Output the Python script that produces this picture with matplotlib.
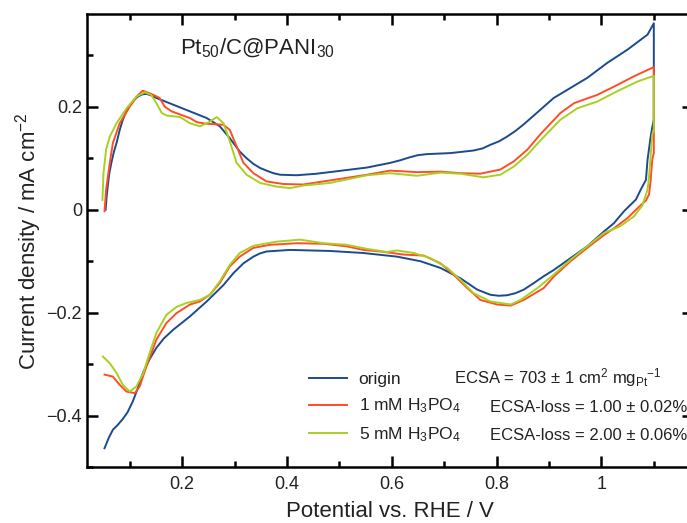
import numpy as np
import matplotlib
matplotlib.use('Agg')
import matplotlib.pyplot as plt
from matplotlib.ticker import MultipleLocator

plt.rcParams['font.family'] = ['Liberation Sans', 'DejaVu Sans']
plt.rcParams['mathtext.fontset'] = 'custom'
plt.rcParams['mathtext.rm'] = 'Liberation Sans'
plt.rcParams['mathtext.it'] = 'Liberation Sans'
plt.rcParams['mathtext.default'] = 'regular'

# CV data: anodic sweep then cathodic sweep (potential in V vs RHE, current in mA cm-2)
origin_x = [0.054, 0.056, 0.058, 0.061, 0.065, 0.070, 0.075, 0.081, 0.087, 0.093, 0.100, 0.108,
            0.116, 0.124, 0.132, 0.141, 0.151, 0.183, 0.215, 0.247,
            0.272, 0.291, 0.310, 0.323, 0.336, 0.349, 0.361, 0.374, 0.387, 0.419, 0.457, 0.489,
            0.553, 0.597, 0.616, 0.635, 0.650, 0.667, 0.712, 0.756, 0.773, 0.788, 0.805, 0.820,
            0.836, 0.852, 0.880, 0.909, 0.973, 1.011, 1.050, 1.088, 1.100,
            1.100, 1.097, 1.094, 1.088, 1.085, 1.075, 1.066, 1.056, 1.043, 1.024, 1.005, 0.973,
            0.941, 0.909, 0.890, 0.870, 0.852, 0.836, 0.820, 0.804, 0.788, 0.763, 0.731, 0.693,
            0.655, 0.610, 0.546, 0.482, 0.406, 0.361, 0.348, 0.336, 0.317, 0.298, 0.279, 0.247,
            0.215, 0.183, 0.165, 0.151, 0.138, 0.126, 0.116, 0.106, 0.096, 0.087, 0.077, 0.068,
            0.060, 0.052]
origin_y = [0.000, 0.025, 0.045, 0.070, 0.091, 0.113, 0.130, 0.155, 0.175, 0.190, 0.202, 0.213,
            0.220, 0.224, 0.225, 0.222, 0.217, 0.204, 0.191, 0.178,
            0.162, 0.139, 0.113, 0.100, 0.089, 0.081, 0.076, 0.071, 0.068, 0.067, 0.070, 0.074,
            0.082, 0.091, 0.096, 0.102, 0.106, 0.108, 0.110, 0.115, 0.119, 0.126, 0.133, 0.142,
            0.153, 0.166, 0.191, 0.217, 0.256, 0.285, 0.311, 0.340, 0.362,
            0.175, 0.160, 0.142, 0.097, 0.058, 0.039, 0.020, 0.010, -0.003, -0.026, -0.042, -0.071,
            -0.094, -0.117, -0.129, -0.143, -0.155, -0.162, -0.166, -0.167, -0.165, -0.155, -0.133, -0.113,
            -0.100, -0.091, -0.084, -0.080, -0.078, -0.081, -0.085, -0.091, -0.104, -0.123, -0.146, -0.178,
            -0.207, -0.233, -0.250, -0.268, -0.290, -0.315, -0.345, -0.372, -0.393, -0.406, -0.418, -0.427,
            -0.443, -0.463]

mm1_x = [0.052, 0.055, 0.062, 0.068, 0.081, 0.100, 0.116, 0.125, 0.141, 0.157, 0.167, 0.180,
         0.196, 0.215, 0.228, 0.247, 0.279, 0.291, 0.304, 0.317, 0.336, 0.361, 0.393, 0.431,
         0.489, 0.553, 0.597, 0.648, 0.693, 0.731, 0.769, 0.807, 0.833, 0.859, 0.884, 0.922,
         0.948, 0.992, 1.024, 1.062, 1.100,
         1.100, 1.097, 1.094, 1.091, 1.085, 1.069, 1.050, 1.024, 1.005, 0.973, 0.941, 0.909,
         0.890, 0.852, 0.827, 0.801, 0.769, 0.744, 0.718, 0.693, 0.661, 0.623, 0.578, 0.546,
         0.514, 0.470, 0.419, 0.368, 0.336, 0.310, 0.291, 0.272, 0.253, 0.234, 0.215, 0.189,
         0.170, 0.151, 0.132, 0.119, 0.110, 0.094, 0.081, 0.068, 0.052]
mm1_y = [-0.003, 0.039, 0.091, 0.130, 0.168, 0.200, 0.223, 0.231, 0.225, 0.217, 0.200, 0.191,
         0.185, 0.178, 0.170, 0.167, 0.165, 0.155, 0.123, 0.091, 0.071, 0.055, 0.050, 0.049,
         0.058, 0.068, 0.076, 0.073, 0.074, 0.071, 0.070, 0.078, 0.094, 0.117, 0.147, 0.188,
         0.207, 0.223, 0.239, 0.259, 0.277,
         0.110, 0.097, 0.058, 0.030, 0.018, 0.003, -0.016, -0.036, -0.049, -0.074, -0.100, -0.130,
         -0.152, -0.175, -0.186, -0.184, -0.175, -0.152, -0.126, -0.104, -0.089, -0.087, -0.081, -0.078,
         -0.071, -0.066, -0.065, -0.068, -0.074, -0.091, -0.110, -0.142, -0.165, -0.178, -0.184, -0.201,
         -0.220, -0.252, -0.304, -0.343, -0.356, -0.353, -0.340, -0.324, -0.320]

mm5_x = [0.048, 0.050, 0.055, 0.062, 0.075, 0.094, 0.113, 0.129, 0.141, 0.151, 0.161, 0.170,
         0.196, 0.215, 0.234, 0.253, 0.266, 0.279, 0.291, 0.304, 0.323, 0.349, 0.380, 0.406,
         0.431, 0.482, 0.553, 0.597, 0.648, 0.693, 0.731, 0.775, 0.807, 0.833, 0.859, 0.884,
         0.922, 0.954, 0.992, 1.030, 1.069, 1.100,
         1.100, 1.097, 1.094, 1.091, 1.088, 1.078, 1.062, 1.036, 1.005, 0.973, 0.941, 0.909,
         0.878, 0.846, 0.827, 0.788, 0.756, 0.731, 0.706, 0.674, 0.642, 0.610, 0.591, 0.553,
         0.514, 0.470, 0.425, 0.380, 0.336, 0.310, 0.291, 0.272, 0.253, 0.234, 0.208, 0.189,
         0.170, 0.151, 0.138, 0.126, 0.113, 0.100, 0.087, 0.075, 0.062, 0.049]
mm5_y = [0.019, 0.071, 0.117, 0.142, 0.168, 0.197, 0.220, 0.228, 0.223, 0.207, 0.188, 0.183,
         0.180, 0.168, 0.162, 0.171, 0.180, 0.168, 0.133, 0.091, 0.068, 0.052, 0.045, 0.042,
         0.047, 0.052, 0.067, 0.071, 0.066, 0.072, 0.070, 0.063, 0.068, 0.084, 0.107, 0.135,
         0.175, 0.197, 0.210, 0.230, 0.249, 0.260,
         0.155, 0.146, 0.104, 0.065, 0.039, 0.008, -0.013, -0.032, -0.045, -0.071, -0.097, -0.126,
         -0.152, -0.175, -0.184, -0.178, -0.162, -0.136, -0.113, -0.094, -0.084, -0.079, -0.082, -0.076,
         -0.068, -0.065, -0.058, -0.062, -0.070, -0.084, -0.107, -0.139, -0.165, -0.175, -0.181, -0.189,
         -0.204, -0.239, -0.278, -0.317, -0.343, -0.353, -0.340, -0.317, -0.298, -0.285]

labels = ['origin', '1 mM H$_3$PO$_4$', '5 mM H$_3$PO$_4$']
notes = ['ECSA = 703 ± 1 cm$^2$ mg$_{Pt}$$^{-1}$',
         'ECSA-loss = 1.00 ± 0.02%',
         'ECSA-loss = 2.00 ± 0.06%']
colors = ['#1b4b8f', '#ff4d26', '#a8d020']

fig = plt.figure(figsize=(6.87, 5.23), dpi=100)
ax = fig.add_axes([0.1266, 0.1065, 0.8827, 0.8667])

for xs, ys, lab, c in zip([origin_x, mm1_x, mm5_x], [origin_y, mm1_y, mm5_y], labels, colors):
    ax.plot(xs, ys, color=c, lw=1.4, label=lab)

ax.set_xlim(0.0185, 1.1755)
ax.set_ylim(-0.5, 0.38)
ax.xaxis.set_minor_locator(MultipleLocator(0.1))
ax.yaxis.set_minor_locator(MultipleLocator(0.1))
ax.set_xticks([0.2, 0.4, 0.6, 0.8, 1.0])
ax.set_xticklabels(['0.2', '0.4', '0.6', '0.8', '1'])
ax.set_yticks([-0.4, -0.2, 0, 0.2])
ax.set_yticklabels(['\u22120.4', '\u22120.2', '0', '0.2'])
ax.tick_params(which='both', direction='in', top=True, right=True, width=1.8, labelsize=13,
               labelcolor='#222222')
ax.tick_params(axis='x', which='major', pad=6)
ax.tick_params(which='major', length=8)
ax.tick_params(which='minor', length=4.5)
for s in ax.spines.values():
    s.set_linewidth(1.8)

ax.set_xlabel('Potential vs. RHE / V', fontsize=16, labelpad=6, color='#222222')
ax.set_ylabel('Current density / mA cm$^{-2}$', fontsize=16, labelpad=2, color='#222222')

ax.text(0.153, 0.925, 'Pt$_{50}$/C@PANI$_{30}$', transform=ax.transAxes, fontsize=16,
        va='center', color='#222222')

leg = ax.legend(loc='lower left', bbox_to_anchor=(0.352, 0.033), frameon=False, fontsize=12.5,
                handlelength=2.2, handletextpad=0.65, labelspacing=0.55, borderpad=0)
for t in leg.get_texts():
    t.set_color('#222222')
note_x = [0.605, 0.664, 0.664]
note_y = [0.197, 0.133, 0.071]
for nx, ny, t in zip(note_x, note_y, notes):
    ax.text(nx, ny, t, transform=ax.transAxes, fontsize=12, va='center', color='#222222')

fig.savefig('out.png', dpi=100)
